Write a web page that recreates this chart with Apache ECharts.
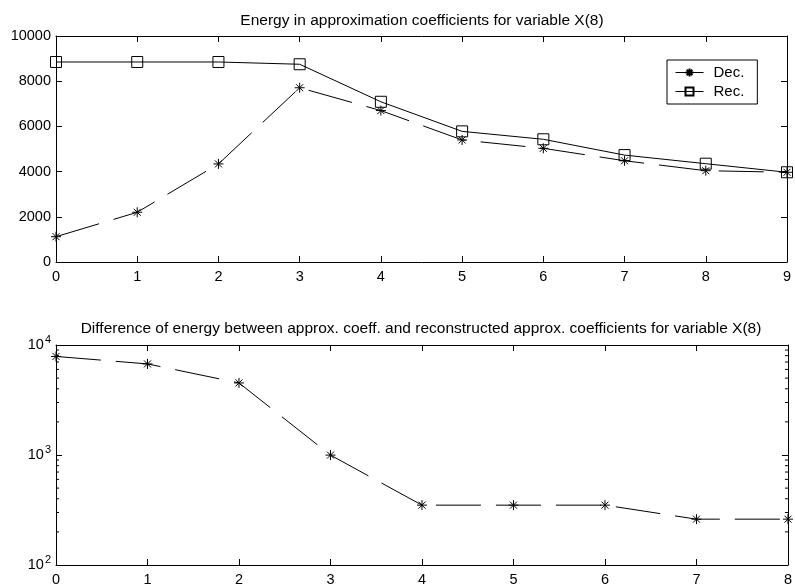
<!DOCTYPE html>
<html>
<head>
<meta charset="utf-8">
<script src="https://cdn.jsdelivr.net/npm/echarts@6/dist/echarts.min.js"></script>
<style>
html,body{margin:0;padding:0;background:#fff;}
#chart{width:795px;height:587px;}
</style>
</head>
<body>
<div id="chart"></div>
<script>
// ---- data ----
var levelsTop = [0, 1, 2, 3, 4, 5, 6, 7, 8, 9];
var decEnergy = [1120, 2200, 4340, 7710, 6700, 5400, 5030, 4480, 4040, 3970];
var recEnergy = [8850, 8850, 8850, 8750, 7090, 5780, 5430, 4730, 4350, 3970];
var levelsBottom = [0, 1, 2, 3, 4, 5, 6, 7, 8];
var energyDiff = [7870, 6730, 4520, 998, 350, 350, 350, 261, 261];
var topTitle = 'Energy in approximation coefficients for variable X(8)';
var bottomTitle = 'Difference of energy between approx. coeff. and reconstructed approx. coefficients for variable X(8)';
var logMinorTicks = [200, 300, 400, 500, 600, 700, 800, 900, 2000, 3000, 4000, 5000, 6000, 7000, 8000, 9000];

var FONT = 'Liberation Sans, Arial, sans-serif';
var black = '#000';
var asterisk = 'path://M5,0L5,10M0,5L10,5M1.5,1.5L8.5,8.5M1.5,8.5L8.5,1.5';

function pairs(xs, ys) { return xs.map(function (x, i) { return [x, ys[i]]; }); }

var tickStyle = { show: true, inside: true, length: 6, lineStyle: { color: black, width: 1 } };
var axisLine = { show: true, onZero: false, lineStyle: { color: black, width: 1 } };
var labelStyle = { color: black, fontFamily: FONT, fontSize: 14.5 };

var chart = echarts.init(document.getElementById('chart'), null, { renderer: 'canvas' });

var grids = [
  { left: 56, right: 8, top: 36, height: 226 },
  { left: 56, right: 7, top: 345, height: 224 }
];

var option = {
  backgroundColor: '#fff',
  animation: false,
  title: [
    { text: topTitle, left: 417, top: 8, textAlign: 'center',
      textStyle: { fontFamily: FONT, fontSize: 15.5, fontWeight: 'normal', color: black } },
    { text: bottomTitle, left: 416, top: 316, textAlign: 'center',
      textStyle: { fontFamily: FONT, fontSize: 15.5, fontWeight: 'normal', color: black } }
  ],
  grid: grids,
  legend: {
    data: ['Dec.', 'Rec.'],
    orient: 'vertical',
    left: 667, top: 60,
    backgroundColor: '#fff',
    borderColor: black, borderWidth: 1,
    padding: [5, 13, 5, 8],
    itemWidth: 28, itemHeight: 10, itemGap: 4,
    textStyle: { fontFamily: FONT, fontSize: 15, color: black, padding: [0, 0, 0, 5] },
    lineStyle: { width: 1 },
    inactiveColor: black
  },
  xAxis: [
    { type: 'value', gridIndex: 0, min: 0, max: 9, interval: 1, position: 'bottom',
      axisLine: axisLine, axisTick: tickStyle, splitLine: { show: false },
      axisLabel: Object.assign({ margin: 7 }, labelStyle) },
    { type: 'value', gridIndex: 0, min: 0, max: 9, interval: 1, position: 'top',
      axisLine: axisLine, axisTick: tickStyle, splitLine: { show: false },
      axisLabel: { show: false } },
    { type: 'value', gridIndex: 1, min: 0, max: 8, interval: 1, position: 'bottom',
      axisLine: axisLine, axisTick: tickStyle, splitLine: { show: false },
      axisLabel: Object.assign({ margin: 7 }, labelStyle) },
    { type: 'value', gridIndex: 1, min: 0, max: 8, interval: 1, position: 'top',
      axisLine: axisLine, axisTick: tickStyle, splitLine: { show: false },
      axisLabel: { show: false } }
  ],
  yAxis: [
    { type: 'value', gridIndex: 0, min: 0, max: 10000, interval: 2000, position: 'left',
      axisLine: axisLine, axisTick: tickStyle, splitLine: { show: false },
      axisLabel: Object.assign({ margin: 5, formatter: function (v) { return String(v); } }, labelStyle) },
    { type: 'value', gridIndex: 0, min: 0, max: 10000, interval: 2000, position: 'right',
      axisLine: axisLine, axisTick: tickStyle, splitLine: { show: false },
      axisLabel: { show: false } },
    { type: 'log', gridIndex: 1, min: 100, max: 10000, logBase: 10, position: 'left',
      axisLine: axisLine, axisTick: tickStyle, splitLine: { show: false },
      axisLabel: Object.assign({ margin: 5,
        formatter: function (v) { return '10{sup|' + Math.round(Math.log10(v)) + '}'; },
        rich: { sup: { fontFamily: FONT, fontSize: 11, color: black, verticalAlign: 'top', padding: [0, 0, 10, 1] } }
      }, labelStyle) },
    { type: 'log', gridIndex: 1, min: 100, max: 10000, logBase: 10, position: 'right',
      axisLine: axisLine, axisTick: tickStyle, splitLine: { show: false },
      axisLabel: { show: false } }
  ],
  series: [
    { name: 'Dec.', type: 'line', xAxisIndex: 0, yAxisIndex: 0,
      data: pairs(levelsTop, decEnergy),
      symbol: asterisk, symbolSize: 10,
      lineStyle: { color: black, width: 1, type: [45, 15] },
      itemStyle: { color: 'none', borderColor: black, borderWidth: 1 },
      z: 3 },
    { name: 'Rec.', type: 'line', xAxisIndex: 0, yAxisIndex: 0,
      data: pairs(levelsTop, recEnergy),
      symbol: 'rect', symbolSize: 11,
      lineStyle: { color: black, width: 1, type: 'solid' },
      itemStyle: { color: 'none', borderColor: black, borderWidth: 1 },
      z: 2 },
    { name: 'Diff', type: 'line', xAxisIndex: 2, yAxisIndex: 2,
      data: pairs(levelsBottom, energyDiff),
      symbol: asterisk, symbolSize: 10,
      lineStyle: { color: black, width: 1, type: [45, 15] },
      itemStyle: { color: 'none', borderColor: black, borderWidth: 1 } },
    { name: 'minorTicks', type: 'custom', xAxisIndex: 2, yAxisIndex: 2,
      silent: true,
      data: logMinorTicks.map(function (v) { return [0, v]; }),
      renderItem: function (params, api) {
        var y = api.coord([0, api.value(1)])[1];
        var cs = params.coordSys;
        return {
          type: 'group',
          children: [
            { type: 'line', shape: { x1: cs.x, y1: y, x2: cs.x + 3, y2: y }, style: { stroke: black, lineWidth: 1 } },
            { type: 'line', shape: { x1: cs.x + cs.width, y1: y, x2: cs.x + cs.width - 3, y2: y }, style: { stroke: black, lineWidth: 1 } }
          ]
        };
      }
    }
  ]
};
chart.setOption(option);
</script>
</body>
</html>
